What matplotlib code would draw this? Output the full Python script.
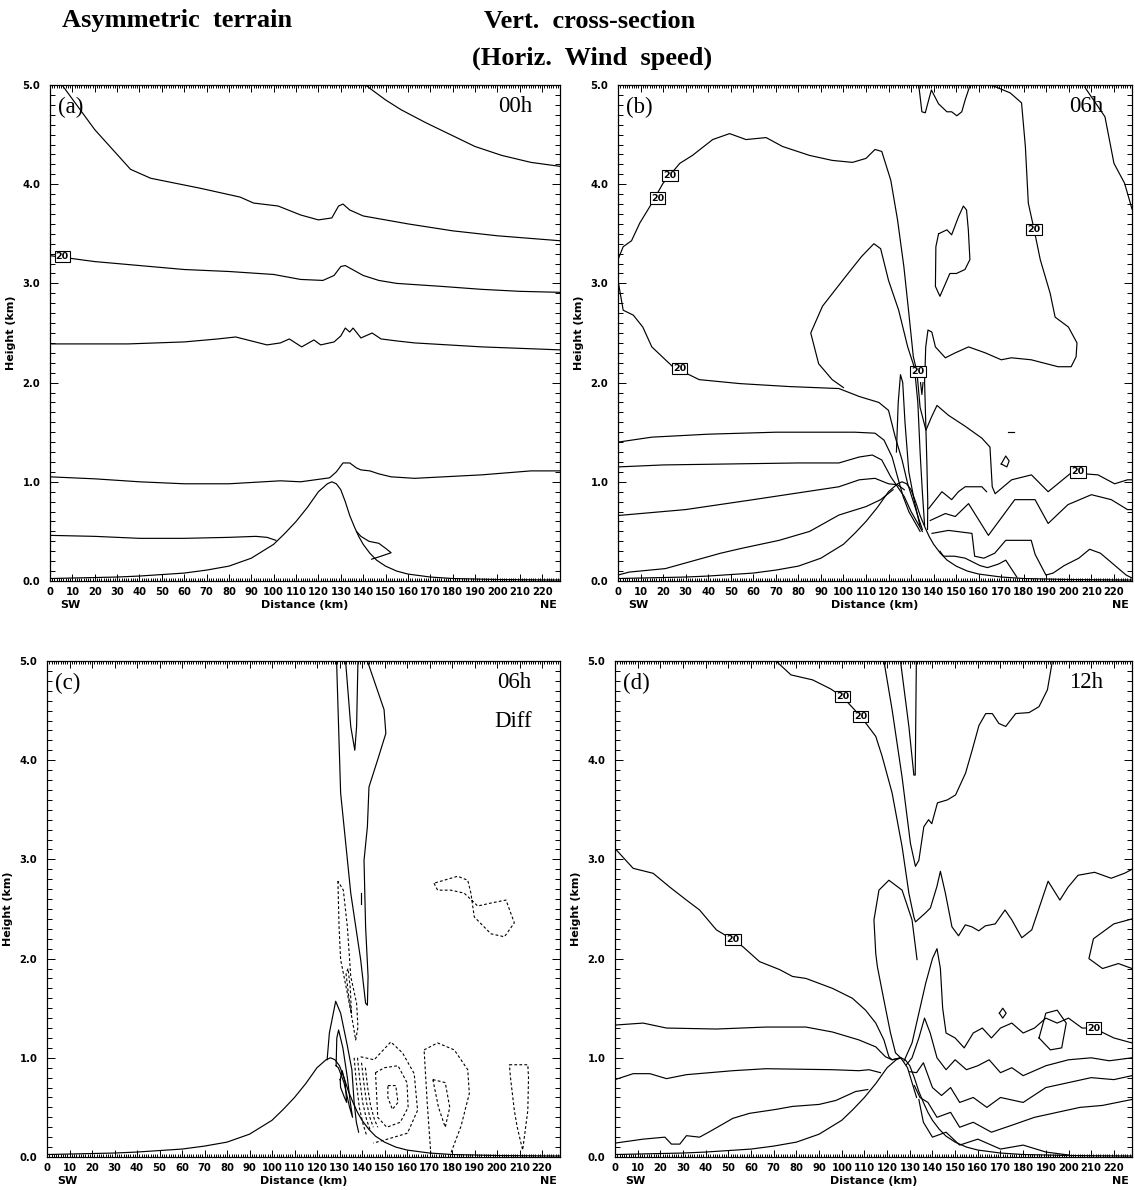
import matplotlib.pyplot as plt
from matplotlib.ticker import MultipleLocator, FormatStrFormatter

# terrain profile: distance (km) / height (km), same in every panel
terrain_x = [0, 10, 20, 30, 40, 50, 60, 70, 80, 90, 100, 105, 110, 115, 120, 124, 126,
             128, 130, 132, 134, 136, 138, 140, 143, 146, 150, 155, 160, 170, 180, 200, 228]
terrain_z = [0.025, 0.03, 0.035, 0.04, 0.05, 0.065, 0.08, 0.11, 0.15, 0.23, 0.37, 0.48, 0.60,
             0.74, 0.90, 0.98, 1.0, 0.98, 0.92, 0.80, 0.66, 0.55, 0.45, 0.37, 0.28, 0.21,
             0.15, 0.10, 0.07, 0.04, 0.025, 0.015, 0.01]

# ---- (a) 00h : contour lines as (distance, height)
a_top = [(5.4, 5.0), (20, 4.55), (36, 4.15), (45, 4.06), (67, 3.96), (85, 3.87), (91, 3.81),
         (102, 3.78), (112, 3.69), (120, 3.64), (126, 3.66), (129, 3.78), (131, 3.8), (134, 3.74),
         (140, 3.68), (150, 3.64), (160, 3.6), (180, 3.53), (200, 3.48), (228, 3.43)]
a_ne = [(141, 5.0), (150, 4.85), (157, 4.75), (168, 4.62), (179, 4.5), (190, 4.38), (202, 4.29),
        (215, 4.22), (228, 4.18)]
a_20 = [(0, 3.28), (20, 3.22), (40, 3.18), (60, 3.14), (80, 3.12), (100, 3.09), (112, 3.04),
        (122, 3.03), (127, 3.08), (130, 3.17), (132, 3.18), (136, 3.13), (140, 3.08), (147, 3.03),
        (155, 3.0), (175, 2.97), (193, 2.94), (210, 2.92), (228, 2.91)]
a_mid = [(0, 2.39), (35, 2.39), (60, 2.41), (75, 2.44), (83, 2.46), (90, 2.42), (97, 2.38),
         (103, 2.40), (107, 2.44), (112.5, 2.36), (118, 2.43), (121, 2.38), (127, 2.41),
         (130, 2.47), (132, 2.55), (134, 2.51), (135.5, 2.55), (139, 2.45), (144, 2.50),
         (148, 2.44), (155, 2.42), (163, 2.40), (193, 2.36), (228, 2.33)]
a_low = [(0, 1.05), (20, 1.03), (40, 1.0), (60, 0.98), (80, 0.98), (103, 1.01), (112, 1.0),
         (125, 1.04), (128, 1.1), (131, 1.19), (134, 1.19), (137, 1.14), (139, 1.12), (143, 1.11),
         (147, 1.08), (152.5, 1.05), (163, 1.035), (193, 1.07), (215, 1.11), (228, 1.11)]
a_sfc = [(0, 0.46), (20, 0.45), (40, 0.43), (60, 0.43), (80, 0.44), (92, 0.45), (97, 0.44),
         (101, 0.41)]
a_lee = [(137, 0.50), (139, 0.45), (142.6, 0.40), (147, 0.38), (150, 0.33), (152.5, 0.285),
         (148, 0.25), (143.8, 0.22)]
a_solid = [a_top, a_ne, a_20, a_mid, a_low, a_sfc, a_lee]
a_labels = [(5.5, 3.27)]

# ---- (b) 06h
b_20 = [(228, 1.02), (226, 1.02), (220.3, 0.98), (212.9, 1.07), (201, 1.09), (190.8, 0.90),
        (183.4, 1.07), (174.6, 1.02), (167.3, 0.88), (166, 0.95), (165, 1.35), (161.4, 1.44),
        (154, 1.56), (146.6, 1.67), (141.5, 1.77), (139, 1.65), (136.6, 1.52), (134, 1.75),
        (132.6, 2.11), (131, 2.26), (129, 2.70),
        (126.8, 3.17), (124, 3.64), (121, 4.04), (117, 4.33), (114, 4.35), (110, 4.26),
        (104, 4.22), (95, 4.24), (85, 4.29), (73, 4.38), (65.7, 4.47), (56.8, 4.45), (49.5, 4.51),
        (42, 4.45), (33, 4.29), (27.4, 4.21), (20, 4.01), (14, 3.77), (9.7, 3.61), (6, 3.43),
        (2.3, 3.37), (0, 3.24), (0, 3.03), (2.3, 2.73), (6.8, 2.68), (11, 2.56), (15, 2.36),
        (24.3, 2.16), (36, 2.03), (54, 1.99), (76, 1.96), (98, 1.94), (107, 1.86), (115.7, 1.80),
        (120, 1.72), (123, 1.45), (126, 1.22), (128.5, 0.98), (131, 0.8), (133.5, 0.62),
        (135, 0.52)]
b_tongue = [(100, 1.95), (95, 2.03), (89, 2.19), (85.5, 2.5), (90.7, 2.77), (101, 3.07),
            (108, 3.27), (113.5, 3.40), (116.5, 3.35), (120, 3.03), (124.5, 2.73), (128.5, 2.36),
            (131.5, 2.15), (133, 1.8), (134, 1.3), (135, 0.9), (136, 0.56)]
b_narrow = [(123.5, 1.3), (124.3, 1.8), (125.3, 2.08), (126.3, 2.0), (127.3, 1.6), (129, 1.1),
            (131.5, 0.8), (134, 0.55)]
b_spike = [(134.2, 2.0), (134.8, 1.88), (135.3, 2.0)]
b_east = [(133.4, 5.0), (134.8, 4.73), (136.3, 4.72), (139, 4.95), (142.2, 4.81), (145.9, 4.73),
          (148, 4.73), (150.3, 4.69), (152.5, 4.73), (154, 4.85), (156.2, 5.0)]
b_ne20 = [(165.5, 5.0), (174, 4.92), (179, 4.82), (180.7, 4.38), (182, 3.81), (184.6, 3.54),
          (187.3, 3.24), (191.7, 2.9), (193.9, 2.66), (199.8, 2.56), (203.6, 2.40), (203.2, 2.26),
          (201, 2.16), (195.2, 2.16), (183.3, 2.23), (174.5, 2.25), (170, 2.23), (162.9, 2.30),
          (155.5, 2.36), (149.6, 2.30), (145.2, 2.25), (140.8, 2.36), (139.2, 2.51),
          (137.5, 2.53), (136.5, 2.36), (136, 2.0), (136.5, 1.6), (137, 1.2), (137.4, 0.8),
          (137.3, 0.52)]
b_corner = [(207, 4.98), (213, 4.78), (216, 4.68), (220, 4.21), (224.7, 4.01), (228, 3.75)]
b_island = [(142.2, 3.50), (145.9, 3.54), (148, 3.49), (151, 3.67), (153.2, 3.78), (154.6, 3.74),
            (155.4, 3.54), (156.1, 3.24), (153.9, 3.14), (150.1, 3.10), (147.2, 3.10),
            (145.3, 3.0), (142.8, 2.87), (140.8, 2.97), (141, 3.37), (142.2, 3.50)]
b_lee1 = [(137.8, 0.73), (143.7, 0.90), (148, 0.82), (151, 0.90), (154, 0.95), (161.4, 0.95),
          (163.5, 0.9)]
b_lee2 = [(138.5, 0.61), (145.2, 0.68), (149.6, 0.65), (155.5, 0.78), (164.3, 0.46), (176, 0.82),
          (185, 0.82), (190.8, 0.58), (199.6, 0.77), (210, 0.87), (218.8, 0.82), (226, 0.72),
          (228, 0.72)]
b_lee3 = [(139.3, 0.48), (146.6, 0.51), (157, 0.48), (158.2, 0.25), (162.3, 0.23), (167.1, 0.28),
          (172, 0.41), (183.3, 0.41), (185, 0.27), (189.8, 0.06), (193, 0.08), (197.9, 0.155),
          (204.4, 0.23), (209.2, 0.32), (214, 0.28), (225.4, 0.06), (228, 0.03)]
b_lee4 = [(142.8, 0.30), (144.4, 0.25), (149.3, 0.25), (154, 0.23), (160.6, 0.155),
          (163.9, 0.135), (168.7, 0.17), (172, 0.21), (176.9, 0.04)]
b_blob = [(170, 1.18), (172, 1.26), (173.5, 1.21), (172.5, 1.15), (170, 1.18)]
b_dash = [(173, 1.5), (175.5, 1.5)]
b_up1 = [(0, 1.40), (15, 1.45), (40, 1.48), (70, 1.50), (98, 1.50), (105, 1.50), (114, 1.49),
         (118, 1.42), (121.6, 1.25), (124, 1.05), (126.5, 0.85), (129, 0.7), (132, 0.58),
         (134, 0.50)]
b_up2 = [(0, 1.15), (20, 1.17), (50, 1.18), (80, 1.19), (98, 1.19), (107, 1.25), (112.8, 1.27),
         (117, 1.22), (121, 1.05), (124, 0.95), (127, 0.85), (130, 0.7), (133, 0.58), (135, 0.5)]
b_up3 = [(0, 0.66), (30, 0.72), (60, 0.82), (98, 0.95), (107, 1.02), (114, 1.035), (120, 0.98),
         (124, 0.97), (127, 0.92)]
b_up4 = [(0, 0.06), (5, 0.09), (21, 0.125), (45.5, 0.28), (55, 0.33), (71.5, 0.41), (85, 0.5),
         (98, 0.665), (110, 0.75), (116.5, 0.82), (122, 0.92)]
b_solid = [b_20, b_tongue, b_narrow, b_spike, b_east, b_ne20, b_corner, b_island, b_lee1, b_lee2,
           b_lee3, b_lee4, b_blob, b_dash, b_up1, b_up2, b_up3, b_up4]
b_labels = [(23, 4.09), (17.5, 3.86), (27.4, 2.14), (184.6, 3.54), (133, 2.11), (204, 1.10)]

# ---- (c) 06h difference
c_jet = [(128.7, 5.0), (130.5, 3.67), (135, 2.66), (139.4, 1.99), (141.6, 1.55), (142.4, 1.53),
         (142.7, 1.82), (141.6, 2.32), (140.9, 2.99), (142.4, 3.33), (143.1, 3.73), (146.9, 4.0),
         (150.6, 4.27), (149.8, 4.51), (142.4, 5.0)]
c_v = [(132.7, 5.0), (135, 4.34), (136.8, 4.10), (137.6, 4.34), (138.2, 5.0)]
c_tick = [(139.4, 2.66), (139.4, 2.55)]
c_cap1 = [(124.5, 0.98), (125.5, 1.25), (128.3, 1.57), (130.5, 1.45), (133.5, 1.12),
          (135.5, 0.88), (136.5, 0.55), (137.5, 0.35), (138.5, 0.25)]
c_cap2 = [(128.5, 0.92), (128.8, 1.2), (129.6, 1.28), (131.5, 1.1), (133.5, 0.8), (134.8, 0.55),
          (135.8, 0.4), (134.5, 0.5), (132, 0.75), (129.5, 0.9), (128.5, 0.92)]
c_cap3 = [(130.3, 0.78), (131.2, 0.87), (132.5, 0.75), (133.2, 0.55), (132.2, 0.6), (130.5, 0.7),
          (130.3, 0.78)]
c_solid = [c_jet, c_v, c_tick, c_cap1, c_cap2, c_cap3]
c_neg1 = [(129.3, 2.78), (129.8, 2.32), (130.5, 1.99), (133.5, 1.65), (135.7, 1.38),
          (137.2, 1.18), (138.2, 1.31), (137.6, 1.55), (135, 1.82), (133.5, 2.32), (131.7, 2.69),
          (129.3, 2.78)]
c_neg2 = [(132.9, 1.85), (134.2, 1.6), (135.3, 1.45), (134.8, 1.7), (133.8, 1.9), (132.9, 1.85)]
c_neg3 = [(172, 2.76), (173.6, 2.69), (179.5, 2.69), (185.4, 2.66), (188.7, 2.59), (191.4, 2.53),
          (197.3, 2.56), (204, 2.59), (207.7, 2.36), (203.3, 2.22), (197.3, 2.25), (189.9, 2.42),
          (188.4, 2.66), (187, 2.79), (182.5, 2.83), (176.5, 2.79), (172, 2.76)]
c_neg4 = [(139.4, 1.01), (145.4, 0.98), (152.8, 1.16), (158, 1.05), (163.2, 0.84), (164.7, 0.47),
          (160.2, 0.24), (149.8, 0.17), (145, 0.14)]
c_neg5 = [(146, 0.85), (150, 0.9), (156, 0.92), (160, 0.75), (160.5, 0.5), (157, 0.35),
          (151, 0.3), (147, 0.4), (146, 0.85)]
c_neg6 = [(151.5, 0.72), (155, 0.72), (156, 0.55), (153.5, 0.48), (151.5, 0.6), (151.5, 0.72)]
c_neg7 = [(167.6, 1.08), (173.6, 1.15), (181, 1.08), (187, 0.88), (187.7, 0.64), (184, 0.31),
          (179.5, 0.04)]
c_neg8 = [(170.6, 0.03), (169, 0.54), (167.6, 1.08)]
c_neg9 = [(171.5, 0.78), (177, 0.75), (179, 0.5), (177, 0.3), (174, 0.5), (171.5, 0.78)]
c_neg10 = [(205.5, 0.93), (213.7, 0.93), (214, 0.8), (213.7, 0.47), (211.4, 0.07), (209, 0.3),
           (207.7, 0.47), (206, 0.8), (205.5, 0.93)]
c_neg11 = [(136.5, 1.0), (137.5, 0.75), (138.8, 0.5), (140.5, 0.33), (142, 0.22)]
c_neg12 = [(138, 1.0), (139, 0.78), (140.3, 0.55), (142, 0.38), (143.5, 0.28)]
c_neg13 = [(139.8, 0.95), (140.8, 0.75), (142, 0.55), (143.5, 0.4), (145, 0.3)]
c_neg14 = [(141.5, 0.9), (142.5, 0.7), (143.8, 0.52), (145.5, 0.38), (147, 0.3)]
c_dashed = [c_neg1, c_neg2, c_neg3, c_neg4, c_neg5, c_neg6, c_neg7, c_neg8, c_neg9, c_neg10,
            c_neg11, c_neg12, c_neg13, c_neg14]

# ---- (d) 12h
d_20 = [(71, 5.0), (77.6, 4.86), (87.1, 4.81), (95, 4.72), (100.3, 4.64), (108.4, 4.44),
        (115, 4.24), (117.8, 4.04), (122.2, 3.67), (126.6, 3.13), (129.6, 2.66), (131.8, 2.42),
        (132.5, 2.37), (136.9, 2.46), (139.1, 2.51), (142, 2.73), (143.5, 2.88), (145.7, 2.66),
        (148.6, 2.32), (151.5, 2.23), (154.5, 2.34), (157.4, 2.32), (160.4, 2.28), (163.3, 2.33),
        (167.7, 2.35), (172, 2.49), (175, 2.39), (179.4, 2.21), (183.8, 2.29), (188.2, 2.59),
        (191, 2.78), (196.2, 2.59), (199.8, 2.72), (204.2, 2.84), (211.5, 2.87), (218.8, 2.81),
        (224.7, 2.86), (228, 2.9)]
d_jet = [(118.6, 5.0), (122.2, 4.51), (126.6, 3.83), (130.3, 3.16), (132.5, 2.93), (134, 2.99),
         (136.2, 3.33), (138.3, 3.40), (139.7, 3.36), (142.2, 3.57), (146.6, 3.60), (150.2, 3.65),
         (154.6, 3.87), (157.5, 4.10), (160.5, 4.35), (163.5, 4.47), (166.4, 4.47), (169.3, 4.37),
         (172.3, 4.34), (176.7, 4.47), (182.6, 4.48), (187, 4.54), (190.7, 4.71), (192.9, 5.0)]
d_v = [(125.9, 5.0), (129.6, 4.34), (131.8, 3.85), (132.4, 3.85), (132.9, 5.0)]
d_loop = [(133.2, 1.99), (131, 2.39), (126.6, 2.69), (120.8, 2.79), (116.4, 2.69), (114.2, 2.39),
          (115, 2.05), (115.7, 1.92), (118.6, 1.58), (121.5, 1.25), (123.7, 1.05), (126, 1.0),
          (129, 0.9), (131, 0.75), (133, 0.6)]
d_west = [(0, 3.11), (8, 2.91), (16.8, 2.86), (24.2, 2.72), (31.5, 2.59), (37.3, 2.49),
          (44.7, 2.29), (52, 2.19), (56.4, 2.12), (63.7, 1.97), (72.5, 1.89), (78.3, 1.82),
          (84.2, 1.80), (95.9, 1.70), (104.7, 1.60), (110.5, 1.48), (115, 1.35), (118.6, 1.18),
          (120.8, 1.01), (122.2, 0.98), (126, 1.0)]
d_l1 = [(0, 1.33), (12.4, 1.35), (22.7, 1.30), (44.7, 1.29), (66.6, 1.31), (84.2, 1.31),
        (95.9, 1.26), (107.6, 1.18), (115, 1.11), (119.3, 1.01), (122.2, 0.98), (126, 1.0)]
d_l2 = [(0, 0.78), (8, 0.84), (15.4, 0.84), (22.7, 0.79), (31.5, 0.83), (52, 0.87), (66.6, 0.89),
        (95.9, 0.88), (107.6, 0.87), (112, 0.88), (117.1, 0.85)]
d_l3 = [(0, 0.14), (12.4, 0.18), (22, 0.20), (24.9, 0.13), (28.6, 0.13), (31.5, 0.215),
        (37.3, 0.20), (41.7, 0.255), (52, 0.39), (59.3, 0.44), (71, 0.48), (78.3, 0.51),
        (90, 0.53), (97.4, 0.57), (106.1, 0.66), (111.5, 0.68)]
d_lee1 = [(127.5, 0.97), (131, 1.15), (134, 1.45), (137, 1.75), (140, 2.0), (142, 2.1),
          (143.5, 1.9), (144.5, 1.5), (146, 1.25), (150, 1.2), (154, 1.1), (158, 1.25),
          (162, 1.3), (166, 1.2), (170, 1.3), (175, 1.35), (180, 1.25), (185, 1.3), (190, 1.4),
          (195, 1.35), (200, 1.4), (206, 1.3), (211, 1.3), (220, 1.2), (228, 1.15)]
d_lee2 = [(128.5, 0.93), (131, 1.0), (134, 1.2), (136.5, 1.4), (139, 1.25), (142, 1.0),
          (146, 0.88), (150, 0.98), (155, 0.88), (160, 0.92), (165, 0.98), (170, 0.85),
          (175, 0.9), (180, 0.82), (190, 0.92), (200, 0.98), (210, 1.0), (218, 0.97), (228, 1.0)]
d_lee3 = [(130, 0.86), (133, 0.85), (136, 0.95), (140, 0.7), (144, 0.62), (148, 0.7), (152, 0.55),
          (158, 0.6), (164, 0.5), (170, 0.6), (180, 0.55), (190, 0.7), (200, 0.75), (210, 0.8),
          (220, 0.78), (228, 0.82)]
d_lee4 = [(132, 0.72), (134.5, 0.6), (138, 0.55), (142, 0.4), (148, 0.45), (152, 0.3),
          (158, 0.35), (166, 0.25), (175, 0.32), (185, 0.4), (195, 0.45), (205, 0.5), (215, 0.52),
          (228, 0.58)]
d_lee5 = [(134, 0.58), (136, 0.35), (140, 0.2), (146, 0.25), (152, 0.12), (160, 0.18),
          (170, 0.08), (180, 0.12), (190, 0.05), (200, 0.02)]
d_blob1 = [(169.5, 1.45), (171, 1.5), (172.5, 1.45), (171, 1.4), (169.5, 1.45)]
d_blob2 = [(187, 1.2), (190, 1.45), (195, 1.48), (199, 1.35), (197, 1.1), (192, 1.08),
           (187, 1.2)]
d_blob3 = [(228, 2.4), (220, 2.35), (211, 2.2), (209, 2.0), (215, 1.9), (222, 1.95), (228, 1.9)]
d_solid = [d_20, d_jet, d_v, d_loop, d_west, d_l1, d_l2, d_l3, d_lee1, d_lee2, d_lee3, d_lee4,
           d_lee5, d_blob1, d_blob2, d_blob3]
d_labels = [(100.3, 4.64), (108.4, 4.44), (52, 2.19), (211, 1.3)]

panels = [
    ('(a)', '00h', '', a_solid, [], a_labels),
    ('(b)', '06h', '', b_solid, [], b_labels),
    ('(c)', '06h', 'Diff', c_solid, c_dashed, []),
    ('(d)', '12h', '', d_solid, [], d_labels),
]
# axes boxes in pixels: left, top, right, bottom
boxes = [(50, 85, 560, 581), (618, 85, 1132, 581), (47, 661, 560, 1157), (615, 661, 1132, 1157)]

W, H = 1135, 1190
fig = plt.figure(figsize=(W / 100, H / 100), dpi=100)
tick_font = dict(family='DejaVu Sans', weight='bold', size=7.2)
name_font = dict(family='DejaVu Sans', weight='bold', size=8)

for (tag, hour, note, solid, dashed, labels), (l, t, r, b) in zip(panels, boxes):
    ax = fig.add_axes([l / W, 1 - b / H, (r - l) / W, (b - t) / H])
    for line in solid:
        xs, zs = zip(*line)
        ax.plot(xs, zs, color='black', lw=0.85)
    for line in dashed:
        xs, zs = zip(*line)
        ax.plot(xs, zs, color='black', lw=0.8, ls=(0, (2.5, 2)))
    ax.plot(terrain_x, terrain_z, color='black', lw=0.85)
    for x, z in labels:
        ax.text(x, z, '20', ha='center', va='center', fontsize=6.8, weight='bold',
                bbox=dict(boxstyle='square,pad=0.12', fc='white', ec='black', lw=0.8), zorder=5)

    ax.set_xlim(0, 228)
    ax.set_ylim(0, 5)
    ax.xaxis.set_major_locator(MultipleLocator(10))
    ax.xaxis.set_minor_locator(MultipleLocator(1))
    ax.yaxis.set_major_locator(MultipleLocator(1))
    ax.yaxis.set_minor_locator(MultipleLocator(0.1))
    ax.yaxis.set_major_formatter(FormatStrFormatter('%.1f'))
    ax.tick_params(which='both', direction='in', top=True, right=True, width=0.7)
    ax.tick_params(which='major', length=5, pad=4)
    ax.tick_params(which='minor', length=2.5)
    ax.tick_params(axis='y', which='minor', length=3.5)
    ax.tick_params(axis='y', which='major', length=6, pad=7)
    for lab in ax.get_xticklabels() + ax.get_yticklabels():
        lab.set_fontproperties(tick_font)
    for s in ax.spines.values():
        s.set_linewidth(0.9)
    ax.set_ylabel('Height (km)', fontdict=name_font)
    ax.yaxis.set_label_coords(-0.066, 0.5)
    ax.text(0.5, -0.048, 'Distance (km)', transform=ax.transAxes, ha='center', va='center',
            **name_font)
    ax.text(9 / 228, -0.048, 'SW', transform=ax.transAxes, ha='center', va='center', **name_font)
    ax.text(223 / 228, -0.048, 'NE', transform=ax.transAxes, ha='center', va='center',
            **name_font)
    ax.text(0.016, 0.977, tag, transform=ax.transAxes, ha='left', va='top',
            family='Liberation Serif', size=16.5)
    ax.text(0.945, 0.977, hour, transform=ax.transAxes, ha='right', va='top',
            family='Liberation Serif', size=16.5)
    if note:
        ax.text(0.945, 0.9, note, transform=ax.transAxes, ha='right', va='top',
                family='Liberation Serif', size=16.5)

fig.text(62 / W, 1 - 21 / H, 'Asymmetric  terrain', ha='left', va='center',
         family='Liberation Serif', weight='bold', size=19)
fig.text(590 / W, 1 - 21 / H, 'Vert.  cross-section', ha='center', va='center',
         family='Liberation Serif', weight='bold', size=19)
fig.text(592 / W, 1 - 58 / H, '(Horiz.  Wind  speed)', ha='center', va='center',
         family='Liberation Serif', weight='bold', size=19)

fig.savefig('out.png', dpi=100)
